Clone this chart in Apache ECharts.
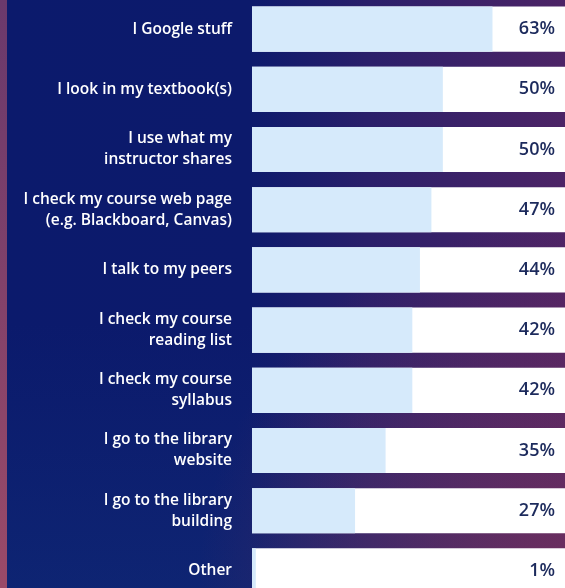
<!DOCTYPE html>
<html>
<head>
<meta charset="utf-8">
<script src="https://cdn.jsdelivr.net/npm/echarts@6/dist/echarts.min.js"></script>
<style>
  html, body {
    margin: 0;
    padding: 0;
  }
  body {
    width: 565px;
    height: 588px;
    background:
      linear-gradient(to bottom, #6a396c 0, #9a4a68 100%) 0 0 / 7px 100% no-repeat,
      radial-gradient(circle at 100% 100%, rgba(150, 50, 80, 0.55), rgba(150, 50, 80, 0) 45%),
      linear-gradient(to bottom, rgba(20, 60, 130, 0) 55%, rgba(20, 60, 130, 0.3) 100%),
      linear-gradient(to right, #0b1a6c 0, #0c1a6c 44%, #2a1f6a 65%, #4d2466 100%);
  }
  #chart {
    width: 565px;
    height: 588px;
  }
</style>
</head>
<body>
<div id="chart"></div>
<script>
  // answers, top to bottom
  var categories = [
    'I Google stuff',
    'I look in my textbook(s)',
    'I use what my\ninstructor shares',
    'I check my course web page\n(e.g. Blackboard, Canvas)',
    'I talk to my peers',
    'I check my course\nreading list',
    'I check my course\nsyllabus',
    'I go to the library\nwebsite',
    'I go to the library\nbuilding',
    'Other'
  ];
  var shares = [63, 50, 50, 47, 44, 42, 42, 35, 27, 1];
  var shareLabels = shares.map(function (v) { return v + '%'; });

  var chart = echarts.init(document.getElementById('chart'));
  chart.setOption({
    animation: false,
    grid: {
      left: 252,
      right: 0,
      top: -1,
      height: 602,
      outerBoundsMode: 'none',
      containLabel: false
    },
    xAxis: {
      type: 'value',
      min: 0,
      max: 82,
      show: false
    },
    yAxis: [
      {
        type: 'category',
        inverse: true,
        data: categories,
        axisLine: { show: false },
        axisTick: { show: false },
        axisLabel: {
          color: '#ffffff',
          fontFamily: 'Open Sans',
          fontSize: 15.5,
          fontWeight: 600,
          lineHeight: 21,
          margin: 20,
          align: 'right'
        }
      },
      {
        type: 'category',
        inverse: true,
        position: 'right',
        z: 10,
        data: shareLabels,
        axisLine: { show: false },
        axisTick: { show: false },
        axisLabel: {
          inside: true,
          color: '#1c2a5c',
          fontFamily: 'Open Sans',
          fontSize: 18,
          fontWeight: 600,
          margin: 10
        }
      }
    ],
    series: [
      {
        type: 'bar',
        data: shares,
        barCategoryGap: '25%',
        showBackground: true,
        backgroundStyle: { color: '#ffffff' },
        itemStyle: { color: '#d6eafb' },
        silent: true
      }
    ]
  });
</script>
</body>
</html>
